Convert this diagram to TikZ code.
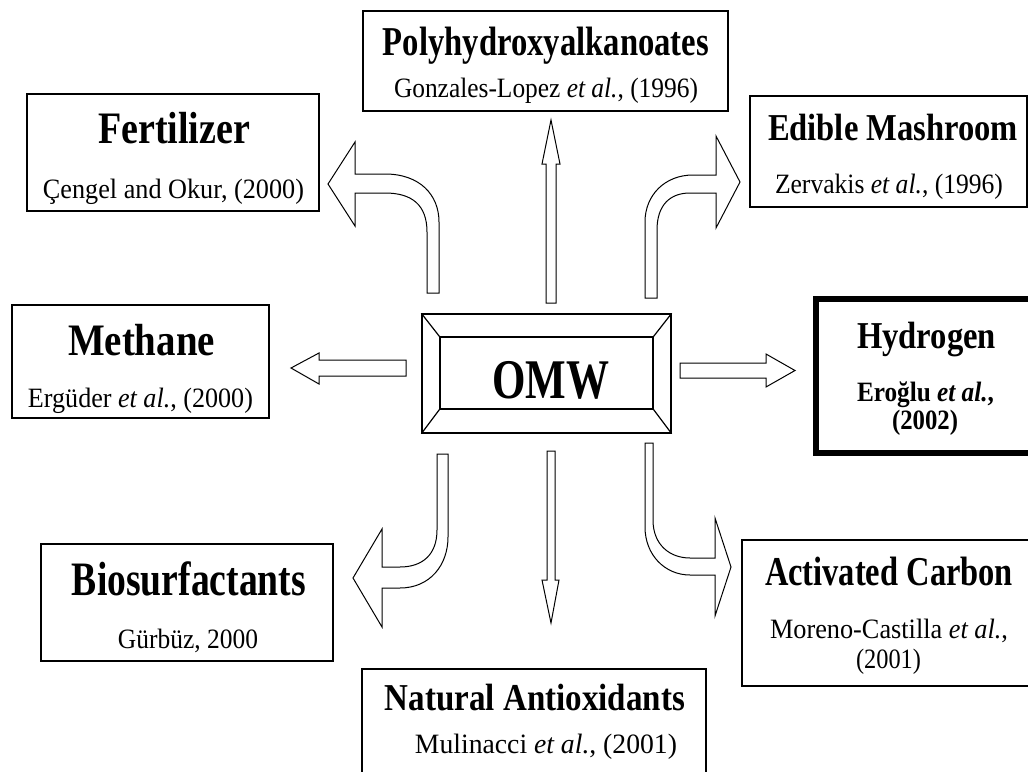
\documentclass[tikz,border=0pt]{standalone}
\usepackage{fontspec}
\setmainfont{Liberation Serif}
\usetikzlibrary{calc}

\newcommand{\fitw}[3]{\resizebox{#1pt}{\height}{\fontsize{#2}{#2}\selectfont #3}}

\tikzset{
	box/.style={draw, rectangle, line width=1.2pt, inner sep=0pt},
	ttl/.style={anchor=base, inner sep=0pt, font=\bfseries},
	refs/.style={anchor=base, inner sep=0pt},
	blockarrow/.style={draw, fill=white, line width=1pt, line join=miter},
}

\begin{document}
\begin{tikzpicture}[x=1pt, y=-1pt]
	\useasboundingbox (0,0) rectangle (1028,771);
	\clip (0,0) rectangle (1028,771);
	% boxes
	\node[box, minimum width=365pt, minimum height=100pt] (phb) at (545.5,61) {};
	\node[box, minimum width=292pt, minimum height=117pt] (fert) at (173,152.5) {};
	\node[box, minimum width=277pt, minimum height=111pt] (edible) at (888.5,151.5) {};
	\node[box, minimum width=257pt, minimum height=113pt] (meth) at (140.5,361.5) {};
	\node[box, line width=6pt, minimum width=222pt, minimum height=154pt] (hyd) at (927,376) {};
	\node[box, minimum width=292pt, minimum height=117pt] (bio) at (187,602.5) {};
	\node[box, minimum width=292pt, minimum height=146pt] (actc) at (888,613) {};
	\node[box, minimum width=344pt, minimum height=116pt] (antiox) at (534,727) {};
	% OMW frame
	\node[box, minimum width=249pt, minimum height=119pt] (omw) at (546.5,373.5) {};
	\node[box, minimum width=213pt, minimum height=72pt] (omw-in) at (546.5,373) {};
	\foreach \c in {north west, north east, south west, south east}
		\draw[line width=1.2pt] (omw.\c) -- (omw-in.\c);
	\node[ttl] (omw-t) at ($(omw.center)+(4,24.5)$) {\fitw{117}{56}{OMW}};

	% texts
	\node[ttl] (phb-t) at ($(phb.center)+(0.5,-6)$) {\fitw{326}{41}{Polyhydroxyalkanoates}};
	\node[refs] (phb-r) at ($(phb.center)+(0.5,36)$) {\fitw{304}{28}{Gonzales-Lopez \textit{et al.}, (1996)}};
	\node[ttl] (fert-t) at ($(fert.center)+(1,-9.5)$) {\fitw{152}{45}{Fertilizer}};
	\node[refs] (fert-r) at ($(fert.center)+(0.5,45.5)$) {\fitw{261}{28}{Çengel and Okur, (2000)}};
	\node[ttl] (edible-t) at ($(edible.center)+(4.5,-11.5)$) {\fitw{250}{38}{Edible Mashroom}};
	\node[refs] (edible-r) at ($(edible.center)+(0.5,41.5)$) {\fitw{228}{28}{Zervakis \textit{et al.}, (1996)}};
	\node[ttl] (meth-t) at ($(meth.center)+(1,-6.5)$) {\fitw{147}{45}{Methane}};
	\node[refs] (meth-r) at ($(meth.center)+(0,45.5)$) {\fitw{225}{28}{Ergüder \textit{et al.}, (2000)}};
	\node[ttl] (hyd-t) at ($(hyd.center)+(-0.5,-28)$) {\fitw{139}{38}{Hydrogen}};
	\node[ttl] (hyd-r) at ($(hyd.center)+(-1.5,25)$) {\fitw{137}{28}{Eroğlu \textit{et al.},}};
	\node[ttl] (hyd-y) at ($(hyd.center)+(-2,53)$) {\fitw{66}{28}{(2002)}};
	\node[ttl] (bio-t) at ($(bio.center)+(2,-7.5)$) {\fitw{234}{48}{Biosurfactants}};
	\node[refs] (bio-r) at ($(bio.center)+(1,45.5)$) {\fitw{140}{28}{Gürbüz, 2000}};
	\node[ttl] (actc-t) at ($(actc.center)+(1,-28)$) {\fitw{248}{41}{Activated Carbon}};
	\node[refs] (actc-r) at ($(actc.center)+(1,25)$) {\fitw{238}{28}{Moreno-Castilla \textit{et al.},}};
	\node[refs] (actc-y) at ($(actc.center)+(0.5,55)$) {\fitw{65}{28}{(2001)}};
	\node[ttl] (antiox-t) at ($(antiox.center)+(1,-17)$) {\fitw{300}{38}{Natural Antioxidants}};
	\node[refs] (antiox-r) at ($(antiox.center)+(12,26)$) {\fitw{262}{28}{Mulinacci \textit{et al.}, (2001)}};

	% straight arrows
	\draw[blockarrow] (546,303) -- (546,164) -- (542,164) -- (551,120) -- (560,164) -- (556,164) -- (556,303) -- cycle;
	\draw[blockarrow] (547,451) -- (547,580) -- (542,580) -- (551,623) -- (559,580) -- (555,580) -- (555,451) -- cycle;
	\draw[blockarrow] (406,360) -- (319,360) -- (319,353) -- (291,368) -- (319,384) -- (319,376) -- (406,376) -- cycle;
	\draw[blockarrow] (680,363) -- (766,363) -- (766,354) -- (795,370.5) -- (766,387) -- (766,378) -- (680,378) -- cycle;
	% bent arrows
	\draw[blockarrow] (427,293) -- (427,232) .. controls (427,205) and (412,193) .. (385,193) -- (355,193) -- (355,226) -- (328,184) -- (355,142) -- (355,174) -- (385,174) .. controls (420,174) and (439,195) .. (439,222) -- (439,293) -- cycle;
	\draw[blockarrow] (645,298) -- (645,222) .. controls (645,195) and (665,175) .. (693,175) -- (716,175) -- (716,136) -- (740,182) -- (716,228) -- (716,193) -- (690,193) .. controls (670,193) and (657,205) .. (657,230) -- (657,298) -- cycle;
	\draw[blockarrow] (437,454) -- (437,530) .. controls (437,555) and (422,567) .. (400,567) -- (382,567) -- (382,529) -- (353,578) -- (382,627) -- (382,588) -- (400,588) .. controls (430,588) and (448,565) .. (448,537) -- (448,454) -- cycle;
	\draw[blockarrow] (645,443) -- (645,527) .. controls (645,555) and (665,575) .. (690,575) -- (715,575) -- (715,616) -- (731,567) -- (715,518) -- (715,558) -- (690,558) .. controls (670,558) and (653,545) .. (653,520) -- (653,443) -- cycle;
\end{tikzpicture}
\end{document}
